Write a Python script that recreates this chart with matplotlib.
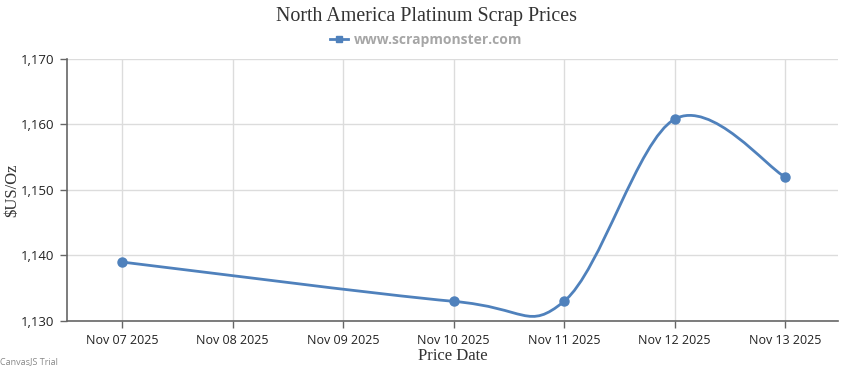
import matplotlib
matplotlib.use("Agg")
import matplotlib.pyplot as plt
from matplotlib.path import Path
from matplotlib.patches import PathPatch
from matplotlib.lines import Line2D
from datetime import date

# ---- data ----
dates = ["2025-11-07", "2025-11-10", "2025-11-11", "2025-11-12", "2025-11-13"]
prices = [1139, 1133, 1133, 1160.8, 1152]
tick_dates = ["2025-11-07", "2025-11-08", "2025-11-09", "2025-11-10",
              "2025-11-11", "2025-11-12", "2025-11-13"]
tick_labels = ["Nov 07 2025", "Nov 08 2025", "Nov 09 2025", "Nov 10 2025",
               "Nov 11 2025", "Nov 12 2025", "Nov 13 2025"]
y_ticks = [1130, 1140, 1150, 1160, 1170]

title = "North America Platinum Scrap Prices"
legend_label = "www.scrapmonster.com"
y_label = "$US/Oz"
x_label = "Price Date"
line_color = "#4f81bc"

base = date(2025, 11, 7)
def dnum(s):
    y, m, d = map(int, s.split("-"))
    return (date(y, m, d) - base).days

xs = [dnum(d) for d in dates]
txs = [dnum(d) for d in tick_dates]

fig = plt.figure(figsize=(8.5, 3.7), dpi=100)
ax = fig.add_axes([67/850, 49/370, (838-67)/850, (321-59)/370])

ax.set_xlim(-0.5, 6.48)
ax.set_ylim(1130, 1170)

# cardinal spline (CanvasJS style) as cubic Bezier path
pts = list(zip(xs, prices))
n = len(pts)
verts = [pts[0]]
codes = [Path.MOVETO]
tension = 2.0
for i in range(1, n):
    p0 = i - 1
    a = 0 if p0 == 0 else p0 - 1
    b = p0 if p0 == n - 1 else p0 + 1
    d1 = ((pts[b][0]-pts[a][0])/tension, (pts[b][1]-pts[a][1])/tension)
    cp1 = (pts[p0][0] + d1[0]/3, pts[p0][1] + d1[1]/3)
    p1 = i
    a = 0 if p1 == 0 else p1 - 1
    b = p1 if p1 == n - 1 else p1 + 1
    d2 = ((pts[b][0]-pts[a][0])/tension, (pts[b][1]-pts[a][1])/tension)
    cp2 = (pts[p1][0] - d2[0]/3, pts[p1][1] - d2[1]/3)
    verts += [cp1, cp2, pts[p1]]
    codes += [Path.CURVE4]*3
patch = PathPatch(Path(verts, codes), facecolor="none", edgecolor=line_color,
                  lw=2, zorder=3, clip_on=False)
ax.add_patch(patch)
ax.plot(xs, prices, "o", color=line_color, ms=6.5, zorder=4, clip_on=False)

# grid / axes styling
ax.set_xticks(txs)
ax.set_xticklabels(tick_labels, fontsize=9, fontfamily="Open Sans", color="#222222")
ax.set_yticks(y_ticks)
ax.set_yticklabels([f"{v:,}" for v in y_ticks], fontsize=9.5, fontfamily="Open Sans", color="#222222")
ax.grid(True, color="#dcdcdc", lw=1)
ax.set_axisbelow(True)
for s in ["top", "right"]:
    ax.spines[s].set_visible(False)
for s in ["left", "bottom"]:
    ax.spines[s].set_color("#666666")
    ax.spines[s].set_linewidth(1.2)
ax.tick_params(axis="both", length=5, color="#666666", width=1, pad=4)

ax.set_xlabel(x_label, fontfamily="Liberation Serif", fontsize=12, color="#333333", labelpad=1)

fig.text(12/850, 1 - 190/370, y_label, rotation=90, ha="center", va="center",
         fontfamily="Liberation Serif", fontsize=12, color="#333333", parse_math=False)

fig.text(0.5015, 1 - 16/370, title, ha="center", va="center",
         fontfamily="Liberation Serif", fontsize=14.4, color="#333333")

h = Line2D([], [], color=line_color, lw=2, marker="s", ms=5)
fig.legend([h], [legend_label], loc="center", bbox_to_anchor=(0.5015, 1 - 40/370),
           frameon=False, handlelength=1.3, handletextpad=0.4,
           prop={"family": "Open Sans", "weight": "bold", "size": 10},
           labelcolor="#a6a6a6")

fig.text(0.0, 4/370, "CanvasJS Trial", ha="left", va="bottom",
         fontfamily="Open Sans", fontsize=6.5, color="#888888")

fig.savefig("out.png", dpi=100)
